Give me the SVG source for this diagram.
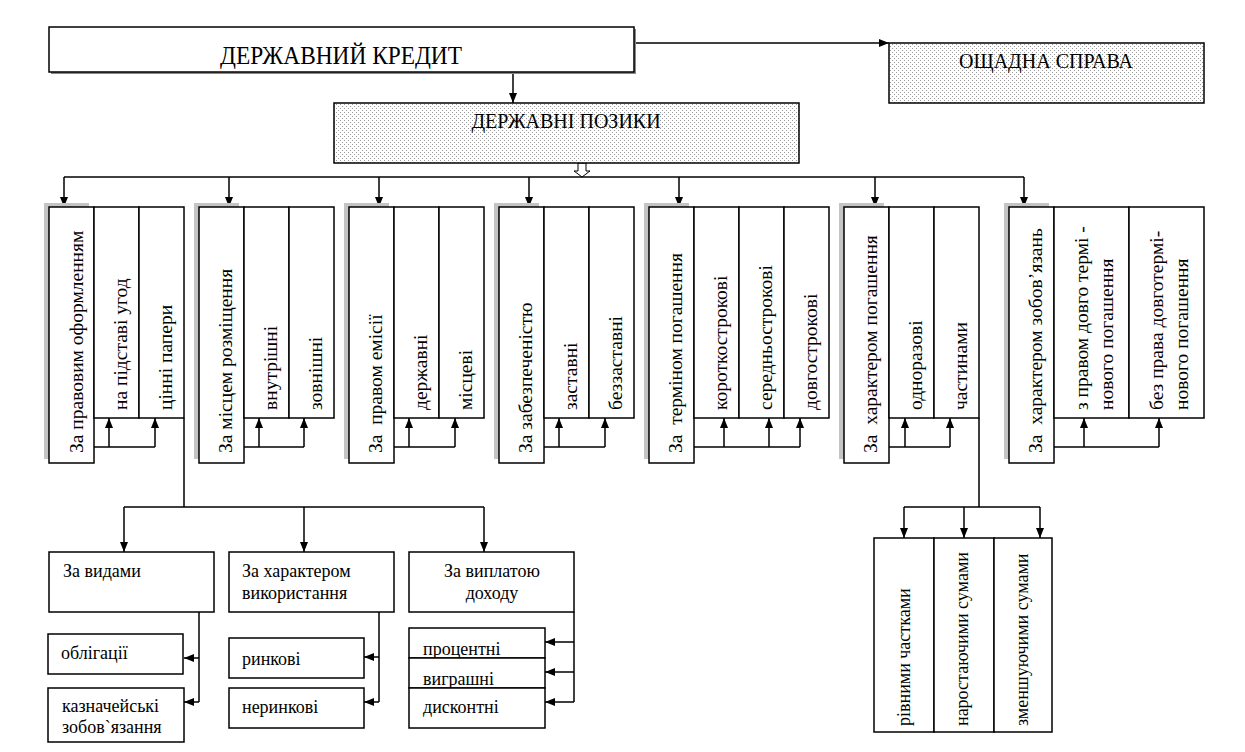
<svg xmlns="http://www.w3.org/2000/svg" width="1245" height="752" viewBox="0 0 1245 752">
<style>
  text { font-family: "Liberation Serif", "Times New Roman", serif; fill: #000; }
  .box { fill: #fff; stroke: #000; stroke-width: 1.5; }
  .dot { fill: url(#dots); stroke: #000; stroke-width: 1.5; }
  .sh { fill: #c4c4c4; stroke: none; }
  .ln { fill: none; stroke: #000; stroke-width: 1.5; }
  .ar { fill: none; stroke: #000; stroke-width: 1.5; marker-end: url(#ah); }
  .vl { font-size: 19.5px; }
  .bl { font-size: 18px; }
</style>
<defs>
  <pattern id="dots" width="4" height="4" patternUnits="userSpaceOnUse">
    <rect width="4" height="4" fill="#fff"/>
    <rect x="0" y="0" width="1" height="1" fill="#999"/>
    <rect x="2" y="2" width="1" height="1" fill="#999"/>
  </pattern>
  <marker id="ah" markerWidth="10" markerHeight="8" refX="10" refY="4" orient="auto" markerUnits="userSpaceOnUse">
    <path d="M0,0 L10,4 L0,8 z" fill="#000"/>
  </marker>
</defs>
<rect width="1245" height="752" fill="#fff"/>

<g id="connectors">
  <path class="ar" d="M634,43 H889"/>
  <path class="ar" d="M513,72 V103"/>
  <polygon points="578,163 586,163 586,171 590,171 582,177 574,171 578,171" fill="#fff" stroke="#000" stroke-width="1"/>
  <path class="ln" d="M64,177 H1024"/>
  <path class="ar" d="M64,177 V207"/>
  <path class="ar" d="M229,177 V207"/>
  <path class="ar" d="M379,177 V207"/>
  <path class="ar" d="M529,177 V207"/>
  <path class="ar" d="M679,177 V207"/>
  <path class="ar" d="M875,177 V207"/>
  <path class="ar" d="M1024,177 V207"/>
  <path class="ln" d="M94,447 H155"/>
  <path class="ar" d="M109,447 V418"/>
  <path class="ar" d="M155,447 V418"/>
  <path class="ln" d="M244,447 H304"/>
  <path class="ar" d="M259,447 V418"/>
  <path class="ar" d="M304,447 V418"/>
  <path class="ln" d="M394,447 H455"/>
  <path class="ar" d="M409,447 V418"/>
  <path class="ar" d="M455,447 V418"/>
  <path class="ln" d="M544,447 H605"/>
  <path class="ar" d="M559,447 V418"/>
  <path class="ar" d="M605,447 V418"/>
  <path class="ln" d="M694,447 H800"/>
  <path class="ar" d="M724,447 V418"/>
  <path class="ar" d="M769,447 V418"/>
  <path class="ar" d="M800,447 V418"/>
  <path class="ln" d="M889,447 H950"/>
  <path class="ar" d="M905,447 V418"/>
  <path class="ar" d="M950,447 V418"/>
  <path class="ln" d="M1054,447 H1159"/>
  <path class="ar" d="M1084,447 V418"/>
  <path class="ar" d="M1159,447 V418"/>
  <path class="ln" d="M184,418 V507 M124,507 H484"/>
  <path class="ar" d="M124,507 V552"/>
  <path class="ar" d="M304,507 V552"/>
  <path class="ar" d="M484,507 V552"/>
  <path class="ln" d="M199,612 V702"/>
  <path class="ar" d="M199,658 H184"/>
  <path class="ar" d="M199,702 H184"/>
  <path class="ln" d="M379,612 V702"/>
  <path class="ar" d="M379,657 H364"/>
  <path class="ar" d="M379,702 H364"/>
  <path class="ln" d="M574,612 V702"/>
  <path class="ar" d="M574,642 H545"/>
  <path class="ar" d="M574,672 H545"/>
  <path class="ar" d="M574,702 H545"/>
  <path class="ln" d="M979,418 V507 M904,507 H1040"/>
  <path class="ar" d="M904,507 V538"/>
  <path class="ar" d="M964,507 V538"/>
  <path class="ar" d="M1040,507 V538"/>
</g>

<g id="derzhavnyi-kredyt">
  <rect x="51" y="29" width="585" height="45" fill="#888"/>
  <rect class="box" x="49" y="27" width="585" height="45"/>
  <text x="341" y="64" font-size="25" text-anchor="middle" textLength="242" lengthAdjust="spacingAndGlyphs">ДЕРЖАВНИЙ КРЕДИТ</text>
</g>

<g id="oshchadna-sprava">
  <rect class="dot" x="889" y="43" width="315" height="60"/>
  <text x="1046" y="68" font-size="20" text-anchor="middle">ОЩАДНА СПРАВА</text>
</g>

<g id="derzhavni-pozyky">
  <rect class="dot" x="334" y="103" width="465" height="60"/>
  <text x="566" y="128" font-size="20" text-anchor="middle">ДЕРЖАВНІ ПОЗИКИ</text>
</g>

<g id="cat1">
  <rect class="sh" x="44" y="203" width="45" height="256"/>
  <rect class="box" x="49" y="207" width="45" height="256"/>
  <rect class="box" x="94" y="207" width="45" height="211"/>
  <rect class="box" x="139" y="207" width="45" height="211"/>
  <text class="vl" transform="translate(83,453) rotate(-90)">За правовим оформленням</text>
  <text class="vl" transform="translate(127,410) rotate(-90)">на підставі угод</text>
  <text class="vl" transform="translate(172,410) rotate(-90)">цінні папери</text>
</g>

<g id="cat2">
  <rect class="sh" x="194" y="203" width="45" height="256"/>
  <rect class="box" x="199" y="207" width="45" height="256"/>
  <rect class="box" x="244" y="207" width="45" height="211"/>
  <rect class="box" x="289" y="207" width="45" height="211"/>
  <text class="vl" transform="translate(232,453) rotate(-90)">За місцем розміщення</text>
  <text class="vl" transform="translate(277,410) rotate(-90)">внутрішні</text>
  <text class="vl" transform="translate(322,410) rotate(-90)">зовнішні</text>
</g>

<g id="cat3">
  <rect class="sh" x="344" y="203" width="45" height="256"/>
  <rect class="box" x="349" y="207" width="45" height="256"/>
  <rect class="box" x="394" y="207" width="45" height="211"/>
  <rect class="box" x="439" y="207" width="45" height="211"/>
  <text class="vl" xml:space="preserve" transform="translate(382,453) rotate(-90)">За  правом емісії</text>
  <text class="vl" transform="translate(427,410) rotate(-90)">державні</text>
  <text class="vl" transform="translate(472,410) rotate(-90)">місцеві</text>
</g>

<g id="cat4">
  <rect class="sh" x="494" y="203" width="45" height="256"/>
  <rect class="box" x="499" y="207" width="45" height="256"/>
  <rect class="box" x="544" y="207" width="45" height="211"/>
  <rect class="box" x="589" y="207" width="45" height="211"/>
  <text class="vl" transform="translate(532,453) rotate(-90)">За забезпеченістю</text>
  <text class="vl" transform="translate(577,410) rotate(-90)">заставні</text>
  <text class="vl" transform="translate(622,410) rotate(-90)">беззаставні</text>
</g>

<g id="cat5">
  <rect class="sh" x="644" y="203" width="45" height="256"/>
  <rect class="box" x="649" y="207" width="45" height="256"/>
  <rect class="box" x="694" y="207" width="45" height="211"/>
  <rect class="box" x="739" y="207" width="45" height="211"/>
  <rect class="box" x="784" y="207" width="45" height="211"/>
  <text class="vl" xml:space="preserve" transform="translate(682,453) rotate(-90)">За  терміном погашення</text>
  <text class="vl" transform="translate(727,410) rotate(-90)">короткострокові</text>
  <text class="vl" transform="translate(772,410) rotate(-90)">середньострокові</text>
  <text class="vl" transform="translate(817,410) rotate(-90)">довгострокові</text>
</g>

<g id="cat6">
  <rect class="sh" x="839" y="203" width="45" height="256"/>
  <rect class="box" x="844" y="207" width="45" height="256"/>
  <rect class="box" x="889" y="207" width="45" height="211"/>
  <rect class="box" x="934" y="207" width="45" height="211"/>
  <text class="vl" xml:space="preserve" transform="translate(877,453) rotate(-90)">За  характером погашення</text>
  <text class="vl" transform="translate(922,410) rotate(-90)">одноразові</text>
  <text class="vl" transform="translate(967,410) rotate(-90)">частинами</text>
</g>

<g id="cat7">
  <rect class="sh" x="1004" y="203" width="45" height="256"/>
  <rect class="box" x="1009" y="207" width="45" height="256"/>
  <rect class="box" x="1054" y="207" width="75" height="211"/>
  <rect class="box" x="1129" y="207" width="75" height="211"/>
  <text class="vl" xml:space="preserve" transform="translate(1042,453) rotate(-90)">За  характером зобов’язань</text>
  <text class="vl" transform="translate(1088,410) rotate(-90)">з правом довго термі -</text>
  <text class="vl" transform="translate(1113,410) rotate(-90)">нового погашення</text>
  <text class="vl" transform="translate(1163,410) rotate(-90)">без права довготермі-</text>
  <text class="vl" transform="translate(1188,410) rotate(-90)">нового погашення</text>
</g>

<g id="za-vydamy">
  <rect class="box" x="49" y="552" width="165" height="60"/>
  <text class="bl" x="63" y="577">За видами</text>
</g>
<g id="oblihatsii">
  <rect class="box" x="48" y="634" width="135" height="40"/>
  <text class="bl" x="61" y="659">облігації</text>
</g>
<g id="kaznacheiski">
  <rect class="box" x="48" y="688" width="136" height="54"/>
  <text class="bl" x="62" y="712">казначейські</text>
  <text class="bl" x="62" y="733">зобов`язання</text>
</g>

<g id="za-kharakterom-vykorystannia">
  <rect class="box" x="229" y="552" width="165" height="60"/>
  <text class="bl" x="242" y="577">За характером</text>
  <text class="bl" x="242" y="599">використання</text>
</g>
<g id="rynkovi">
  <rect class="box" x="229" y="638" width="135" height="40"/>
  <text class="bl" x="242" y="665">ринкові</text>
</g>
<g id="nerynkovi">
  <rect class="box" x="229" y="688" width="135" height="40"/>
  <text class="bl" x="242" y="713">неринкові</text>
</g>

<g id="za-vyplatoiu-dokhodu">
  <rect class="box" x="409" y="552" width="165" height="60"/>
  <text class="bl" x="492" y="577" text-anchor="middle">За виплатою</text>
  <text class="bl" x="492" y="599" text-anchor="middle">доходу</text>
</g>
<g id="protsentni">
  <rect class="box" x="409" y="628" width="136" height="30"/>
  <text class="bl" x="423" y="655">процентні</text>
</g>
<g id="vyhrashni">
  <rect class="box" x="409" y="658" width="136" height="30"/>
  <text class="bl" x="423" y="685">виграшні</text>
</g>
<g id="dyskontni">
  <rect class="box" x="409" y="688" width="136" height="40"/>
  <text class="bl" x="423" y="713">дисконтні</text>
</g>

<g id="rivnymy-chastkamy">
  <rect class="box" x="874" y="538" width="60" height="194"/>
  <text class="bl" transform="translate(910,726) rotate(-90)">рівними частками</text>
</g>
<g id="narostaiuchymy-sumamy">
  <rect class="box" x="934" y="538" width="60" height="194"/>
  <text class="bl" transform="translate(968,726) rotate(-90)">наростаючими сумами</text>
</g>
<g id="zmenshuiuchymy-sumamy">
  <rect class="box" x="994" y="538" width="58" height="194"/>
  <text class="bl" transform="translate(1028,726) rotate(-90)">зменшуючими сумами</text>
</g>
</svg>
